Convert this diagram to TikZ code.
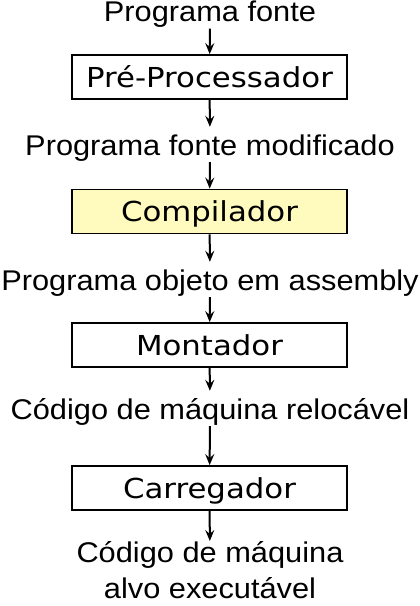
\documentclass[tikz,border=0pt]{standalone}
\usepackage{fontspec}
\setmainfont{Liberation Sans}
\newfontfamily\boxfont{DejaVu Sans}
\usetikzlibrary{arrows.meta}
\definecolor{highlight}{RGB}{255, 250, 190}

\begin{document}
\begin{tikzpicture}[x=1pt, y=-1pt,
    stage/.style={draw, line width=1.8pt, minimum width=245.5pt, minimum height=44pt, inner sep=0pt,
      text height=20pt, text depth=0pt, xscale=1.12, font=\boxfont\fontsize{27.5}{33}\selectfont},
    data/.style={inner sep=0pt, text height=28pt, text depth=7pt, anchor=base, xscale=1.08,
      font=\fontsize{28.5}{36}\selectfont},
    flow/.style={-{Stealth[length=11pt, width=9pt, inset=4pt]}, line width=2pt}]
      \useasboundingbox (0,0) rectangle (420,606);

      % Stages
      \node[stage] (pre) at (209.5,77) {Pré-Processador};
      \node[stage, fill=highlight] (comp) at (209.5,211.5) {Compilador};
      \node[stage] (mont) at (209.5,345) {Montador};
      \node[stage] (carr) at (209.5,488) {Carregador};

      % Data between stages
      \node[data] (src) at (210,21.5) {Programa fonte};
      \node[data] (mod) at (210,155) {Programa fonte modificado};
      \node[data] (asm) at (210,290) {Programa objeto em assembly};
      \node[data] (rel) at (210,419) {Código de máquina relocável};
      \node[inner sep=0pt, anchor=north, align=center, xscale=1.08, font=\fontsize{28.5}{36}\selectfont]
        (exe) at (210,541) {Código de máquina\\alvo executável};

      % Flow
      \draw[flow] (src) -- (pre);
      \draw[flow] (pre) -- (mod);
      \draw[flow] (mod) -- (comp);
      \draw[flow] (comp) -- (asm);
      \draw[flow] (asm) -- (mont);
      \draw[flow] (mont) -- (rel);
      \draw[flow] (rel) -- (carr);
      \draw[flow] (carr) -- (exe);
\end{tikzpicture}
\end{document}
